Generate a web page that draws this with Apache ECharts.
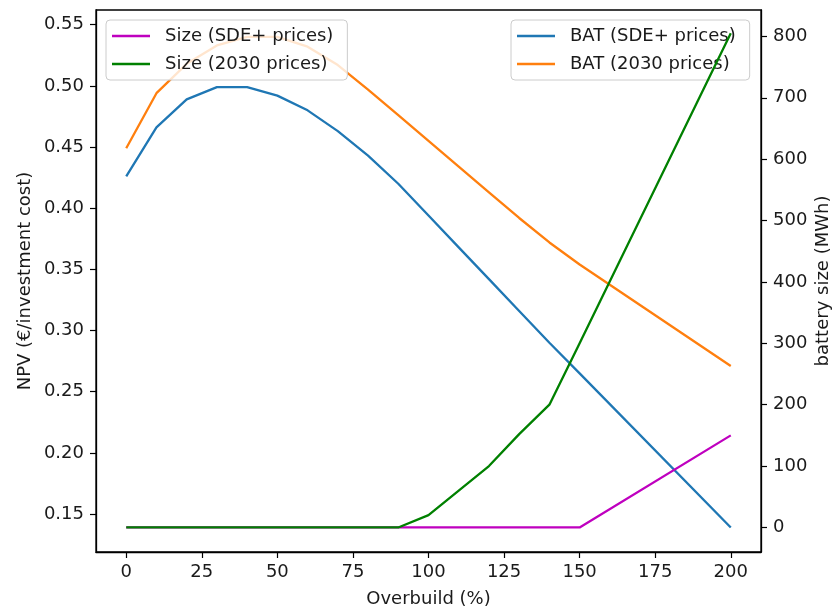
<!DOCTYPE html>
<html>
<head>
<meta charset="utf-8">
<script src="https://cdn.jsdelivr.net/npm/echarts@6/dist/echarts.min.js"></script>
<style>
  html, body { margin: 0; padding: 0; background: #fff; }
  #chart { width: 834px; height: 613px; }
</style>
</head>
<body>
<div id="chart"></div>
<script>
// overbuild steps (%)
const overbuild = [0, 10, 20, 30, 40, 50, 60, 70, 80, 90, 100, 110, 120, 130, 140, 150, 200];

// NPV / investment cost (left axis)
const batSde  = [0.426, 0.466, 0.489, 0.499, 0.499, 0.492, 0.480, 0.463, 0.443, 0.420, 0.394, 0.368, 0.342, 0.316, 0.290, 0.265, 0.139];
const bat2030 = [0.449, 0.494, 0.518, 0.533, 0.540, 0.540, 0.532, 0.517, 0.497, 0.476, 0.455, 0.434, 0.413, 0.392, 0.372, 0.354, 0.271];

// battery size in MWh (right axis)
const sizeSde  = [0, 0, 0, 0, 0, 0, 0, 0, 0, 0, 0, 0, 0, 0, 0, 0, 150];
const size2030 = [0, 0, 0, 0, 0, 0, 0, 0, 0, 0, 20, 60, 100, 152, 200, 300, 805];

const xTicks    = [0, 25, 50, 75, 100, 125, 150, 175, 200];
const npvTicks  = [0.15, 0.20, 0.25, 0.30, 0.35, 0.40, 0.45, 0.50, 0.55];
const sizeTicks = [0, 100, 200, 300, 400, 500, 600, 700, 800];

const FONT = 'DejaVu Sans';
const FS = 18;
const INK = '#1a1a1a';

function pairs(ys) { return overbuild.map((x, i) => [x, ys[i]]); }

function lineSeries(name, ys, color, yAxisIndex, z) {
  return {
    name, type: 'line', data: pairs(ys), yAxisIndex, z,
    symbol: 'none', silent: true,
    lineStyle: { color, width: 2.3 },
    itemStyle: { color },
  };
}

// matplotlib-like legend box: flat line handle, translucent white frame
function legendBox(left, names, z) {
  return {
    orient: 'vertical', left, top: 20, z,
    data: names,
    icon: 'rect',
    padding: [6, 14, 6, 6],
    itemWidth: 38, itemHeight: 2.3, itemGap: 8,
    backgroundColor: 'rgba(255,255,255,0.8)',
    borderColor: '#cccccc', borderWidth: 1, borderRadius: 4,
    textStyle: { fontFamily: FONT, fontSize: FS, color: INK, lineHeight: 20, padding: [0, 0, 0, 10] },
  };
}

const tickStyle = { color: '#000', width: 1.2 };
const spine = { color: '#000', width: 1.3 };

const option = {
  animation: false,
  backgroundColor: '#fff',
  grid: {
    left: 96, right: 73, top: 10, bottom: 61, outerBoundsMode: 'none', containLabel: false,
    show: true, borderColor: '#000', borderWidth: 1.3, backgroundColor: 'transparent',
  },
  legend: [
    legendBox(106, ['Size (SDE+ prices)', 'Size (2030 prices)'], 6),
    legendBox(511, ['BAT (SDE+ prices)', 'BAT (2030 prices)'], 2),
  ],
  xAxis: {
    type: 'value', min: -10, max: 210,
    name: 'Overbuild (%)', nameLocation: 'middle', nameGap: 38, nameMoveOverlap: false,
    nameTextStyle: { fontFamily: FONT, fontSize: FS, color: INK },
    axisLine: { show: true, onZero: false, lineStyle: spine },
    axisTick: { show: true, length: 6, customValues: xTicks, lineStyle: tickStyle },
    axisLabel: { customValues: xTicks, fontFamily: FONT, fontSize: FS, color: INK, margin: 11 },
    splitLine: { show: false },
  },
  yAxis: [
    {
      type: 'value', position: 'left', min: 0.119, max: 0.562,
      name: 'NPV (€/investment cost)', nameLocation: 'middle', nameRotate: 90, nameGap: 62, nameMoveOverlap: false,
      nameTextStyle: { fontFamily: FONT, fontSize: FS, color: INK },
      axisLine: { show: true, onZero: false, lineStyle: spine },
      axisTick: { show: true, length: 6, customValues: npvTicks, lineStyle: tickStyle },
      axisLabel: { customValues: npvTicks, fontFamily: FONT, fontSize: FS, color: INK, margin: 12,
                   formatter: v => v.toFixed(2) },
      splitLine: { show: false },
    },
    {
      type: 'value', position: 'right', min: -40, max: 843,
      name: 'battery size (MWh)', nameLocation: 'middle', nameRotate: 90, nameGap: 53, nameMoveOverlap: false,
      nameTextStyle: { fontFamily: FONT, fontSize: FS, color: INK },
      axisLine: { show: true, onZero: false, lineStyle: spine },
      axisTick: { show: true, length: 6, customValues: sizeTicks, lineStyle: tickStyle },
      axisLabel: { customValues: sizeTicks, fontFamily: FONT, fontSize: FS, color: INK, margin: 12 },
      splitLine: { show: false },
    },
  ],
  series: [
    lineSeries('BAT (SDE+ prices)', batSde, '#1f77b4', 0, 1),
    lineSeries('BAT (2030 prices)', bat2030, '#ff7f0e', 0, 1),
    lineSeries('Size (SDE+ prices)', sizeSde, '#bf00bf', 1, 3),
    lineSeries('Size (2030 prices)', size2030, '#008000', 1, 3),
  ],
};

const chart = echarts.init(document.getElementById('chart'), null, { renderer: 'canvas' });
chart.setOption(option);
</script>
</body>
</html>
